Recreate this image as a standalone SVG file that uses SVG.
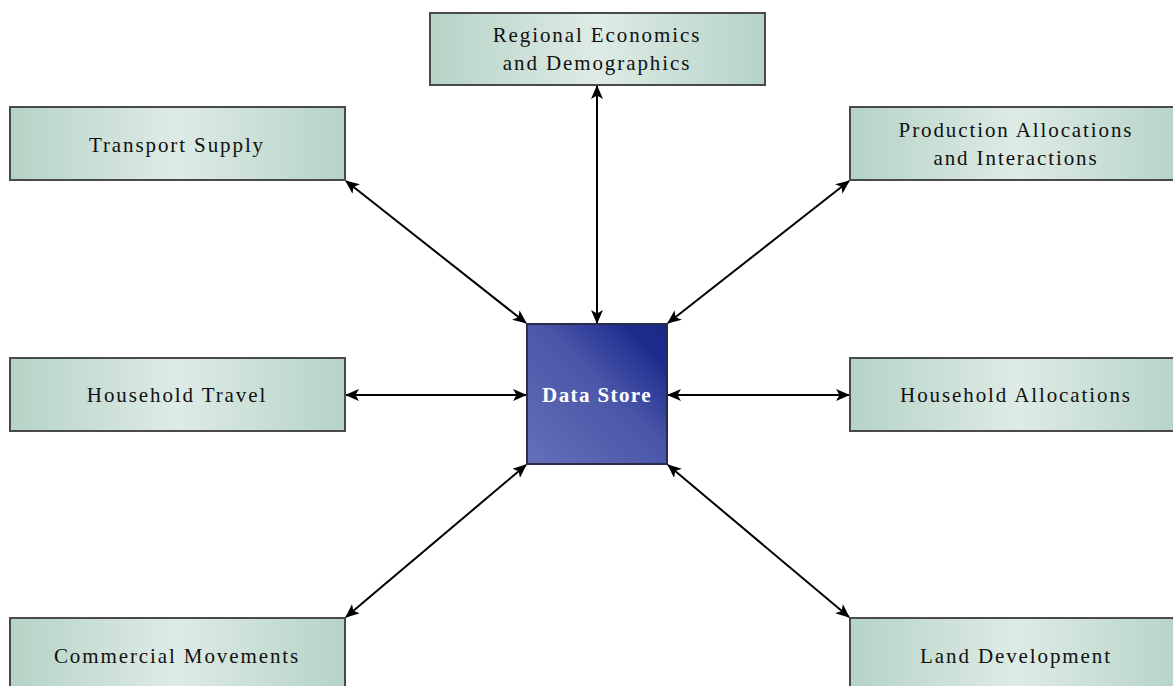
<svg xmlns="http://www.w3.org/2000/svg" width="1173" height="686" viewBox="0 0 1173 686">
<defs>
<linearGradient id="g" x1="0" y1="0" x2="1" y2="0">
<stop offset="0" stop-color="#b5d3c6"/>
<stop offset="0.5" stop-color="#deebe6"/>
<stop offset="1" stop-color="#b5d3c6"/>
</linearGradient>
<linearGradient id="b" x1="0" y1="1" x2="1" y2="0">
<stop offset="0" stop-color="#6470b8"/>
<stop offset="0.55" stop-color="#4a56a8"/>
<stop offset="0.85" stop-color="#1e2c8e"/>
<stop offset="1" stop-color="#1a2888"/>
</linearGradient>
<marker id="a" markerWidth="14" markerHeight="12" refX="13" refY="6" orient="auto-start-reverse" markerUnits="userSpaceOnUse">
<path d="M0,0 L14,6 L0,12 L3.5,6 z" fill="#000"/>
</marker>
</defs>
<style>
.n{fill:url(#g);stroke:#4a4a4a;stroke-width:2}
.t{font-family:"Liberation Serif",serif;font-size:21px;letter-spacing:1.9px;fill:#111;text-anchor:middle}
.w{font-family:"Liberation Serif",serif;font-size:21px;font-weight:bold;letter-spacing:1.4px;fill:#fff;text-anchor:middle}
.c{stroke:#000;stroke-width:2;fill:none;marker-start:url(#a);marker-end:url(#a)}
</style>
<rect width="1173" height="686" fill="#fff"/>
<g id="connectors">
<line class="c" x1="346" y1="181" x2="526" y2="323"/>
<line class="c" x1="597" y1="86" x2="597" y2="323"/>
<line class="c" x1="849" y1="181" x2="668" y2="323"/>
<line class="c" x1="346" y1="395" x2="526" y2="395"/>
<line class="c" x1="849" y1="395" x2="668" y2="395"/>
<line class="c" x1="346" y1="617" x2="526" y2="465"/>
<line class="c" x1="849" y1="617" x2="668" y2="465"/>
</g>
<g id="regional">
<rect class="n" x="430" y="13" width="335" height="72"/>
<text class="t" x="597" y="42">Regional Economics</text>
<text class="t" x="597" y="70">and Demographics</text>
</g>
<g id="transport">
<rect class="n" x="10" y="107" width="335" height="73"/>
<text class="t" x="177" y="152">Transport Supply</text>
</g>
<g id="production">
<rect class="n" x="850" y="107" width="335" height="73"/>
<text class="t" x="1016" y="137">Production Allocations</text>
<text class="t" x="1016" y="165">and Interactions</text>
</g>
<g id="household-travel">
<rect class="n" x="10" y="358" width="335" height="73"/>
<text class="t" x="177" y="402">Household Travel</text>
</g>
<g id="household-alloc">
<rect class="n" x="850" y="358" width="335" height="73"/>
<text class="t" x="1016" y="402">Household Allocations</text>
</g>
<g id="commercial">
<rect class="n" x="10" y="618" width="335" height="80"/>
<text class="t" x="177" y="663">Commercial Movements</text>
</g>
<g id="land">
<rect class="n" x="850" y="618" width="335" height="80"/>
<text class="t" x="1016" y="663">Land Development</text>
</g>
<g id="datastore">
<rect x="527" y="324" width="140" height="140" fill="url(#b)" stroke="#2a2a4a" stroke-width="2"/>
<text class="w" x="597" y="402">Data Store</text>
</g>
</svg>
